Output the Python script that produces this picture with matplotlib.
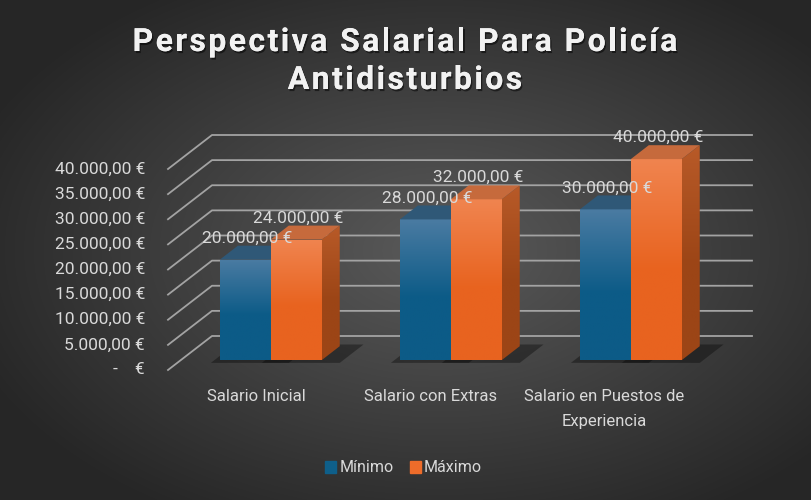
import numpy as np
import matplotlib.pyplot as plt
from matplotlib.patches import Polygon, Patch
from matplotlib.colors import to_rgb
from matplotlib.font_manager import FontProperties, findfont, get_font
import matplotlib.patheffects as pe

categories = ["Salario Inicial", "Salario con Extras", "Salario en Puestos de\nExperiencia"]
minimo = [20000, 28000, 30000]
maximo = [24000, 32000, 40000]
series_names = ["Mínimo", "Máximo"]
y_ticks = list(range(0, 40001, 5000))
title_lines = ["Perspectiva Salarial Para Policía", "Antidisturbios"]

TXT = "#d9d9d9"
W, H = 812, 500


def euro(v):
    if v == 0:
        return "-    €"
    s = f"{v:,.2f}".replace(",", "X").replace(".", ",").replace("X", ".")
    return s + " €"


# 3d look: depth moves points right/up
DX = 44 / 180
DY = 34 * 40000 / 201
db, dd = 0.29, 0.41   # bar depth start and thickness
bw = 0.283


def P(x0, v, d):
    return (x0 + d * DX, v + d * DY)


fig = plt.figure(figsize=(W / 100, H / 100), dpi=100)

# background radial gradient
bg = fig.add_axes([0, 0, 1, 1])
yy, xx = np.mgrid[0:H, 0:W]
r = np.sqrt(((xx - 440) / W) ** 2 + ((yy - 250) / H) ** 2)
t = np.clip(r / 0.62, 0, 1)[..., None]
c0 = np.array(to_rgb("#5a5a5a"))
c1 = np.array(to_rgb("#262626"))
bg.imshow(c0 + (c1 - c0) * t, aspect="auto", extent=[0, W, H, 0])
bg.set_axis_off()

ax = fig.add_axes([0, 0, 1, 1])
ax.patch.set_alpha(0)
ax.set_axis_off()

# walls / grid
for v in y_ticks:
    pts = [P(-0.5, v, 0), P(-0.5, v, 1), P(2.5, v, 1)]
    ax.plot([p[0] for p in pts], [p[1] for p in pts], color="#a3a3a3", lw=1.3, zorder=1)


def grad_poly(poly, ctop, cbot, z):
    patch = Polygon(poly, closed=True, facecolor="none", edgecolor="none", zorder=z)
    ax.add_patch(patch)
    xs = [p[0] for p in poly]
    ys = [p[1] for p in poly]
    n = 64
    f = np.linspace(0, 1, n)[:, None, None]
    a, b = np.array(to_rgb(ctop)), np.array(to_rgb(cbot))
    img = a + (b - a) * np.clip(f * 1.8, 0, 1)
    im = ax.imshow(img, extent=[min(xs), max(xs), min(ys), max(ys)], aspect="auto",
                   zorder=z, interpolation="bilinear")
    im.set_clip_path(patch)


def bar3d(x0, v, front, side, top, z):
    x1 = x0 + bw
    # shadow on floor
    sh = [P(x0 - 0.03, 0, db - 0.08), P(x1 + 0.12, 0, db - 0.08),
          P(x1 + 0.12, 0, db + dd + 0.05), P(x0 - 0.03, 0, db + dd + 0.05)]
    ax.add_patch(Polygon(sh, closed=True, facecolor="black", alpha=0.35, lw=0, zorder=2))
    grad_poly([P(x0, 0, db), P(x1, 0, db), P(x1, v, db), P(x0, v, db)],
              front[0], front[1], z)
    grad_poly([P(x1, 0, db), P(x1, 0, db + dd), P(x1, v, db + dd), P(x1, v, db)],
              side[0], side[1], z)
    ax.add_patch(Polygon([P(x0, v, db), P(x1, v, db), P(x1, v, db + dd), P(x0, v, db + dd)],
                         closed=True, facecolor=top, lw=0, zorder=z + 0.1))


for i in range(len(categories)):
    bar3d(i - bw, minimo[i], ("#4a7ba2", "#0c5b87"), ("#1c4560", "#0a3a58"), "#2f5877", 3 + i)
    bar3d(i, maximo[i], ("#f0844f", "#e8631f"), ("#b85a28", "#9c4516"), "#c66a3c", 3.5 + i)
    for x0, v in ((i - bw, minimo[i]), (i, maximo[i])):
        ax.annotate(euro(v), xy=P(x0 + bw / 2, v, db), xytext=(1.5, 15.5),
                    textcoords="offset points", ha="center", va="center",
                    color=TXT, fontsize=12.5, family="Roboto", zorder=10)
    ax.text(i * 0.967 - 0.01, -3700, categories[i], ha="center", va="top",
            color=TXT, fontsize=12, family="Roboto", linespacing=1.9)

for v in y_ticks:
    ax.text(-0.628, v, euro(v), ha="right", va="center", color=TXT,
            fontsize=12.5, family="Roboto")

ax.set_xlim(-258 / 180, 554 / 180)
ax.set_ylim(-130 * 40000 / 201, 370 * 40000 / 201)

# title with letter spacing, char by char
tprop = FontProperties(family="Roboto", weight="bold", size=23)
tfont = get_font(findfont(tprop))
tfont.set_size(23, 100)
shadow = [pe.withSimplePatchShadow(offset=(1, -1.5), shadow_rgbFace="black", alpha=0.5), pe.Normal()]
track = 2.4
for line, ybase in zip(title_lines, (51, 89)):
    adv = [tfont.load_char(ord(c)).linearHoriAdvance / 65536 for c in line]
    total = sum(adv) + track * (len(line) - 1)
    x = 405 - total / 2
    for c, a in zip(line, adv):
        fig.text(x / W, 1 - ybase / H, c, ha="left", va="baseline", color="#f2f2f2",
                 fontproperties=tprop, path_effects=shadow)
        x += a + track

handles = [Patch(color="#0e5f8a"), Patch(color="#ee6c2a")]
fig.legend(handles, series_names, loc="center", bbox_to_anchor=(0.497, 1 - 468 / H), ncol=2,
           frameon=False, handlelength=0.7, handleheight=0.7, handletextpad=0.2,
           columnspacing=1.0, prop={"family": "Roboto", "size": 11.5}, labelcolor=TXT)

fig.savefig("out.png", dpi=100)
